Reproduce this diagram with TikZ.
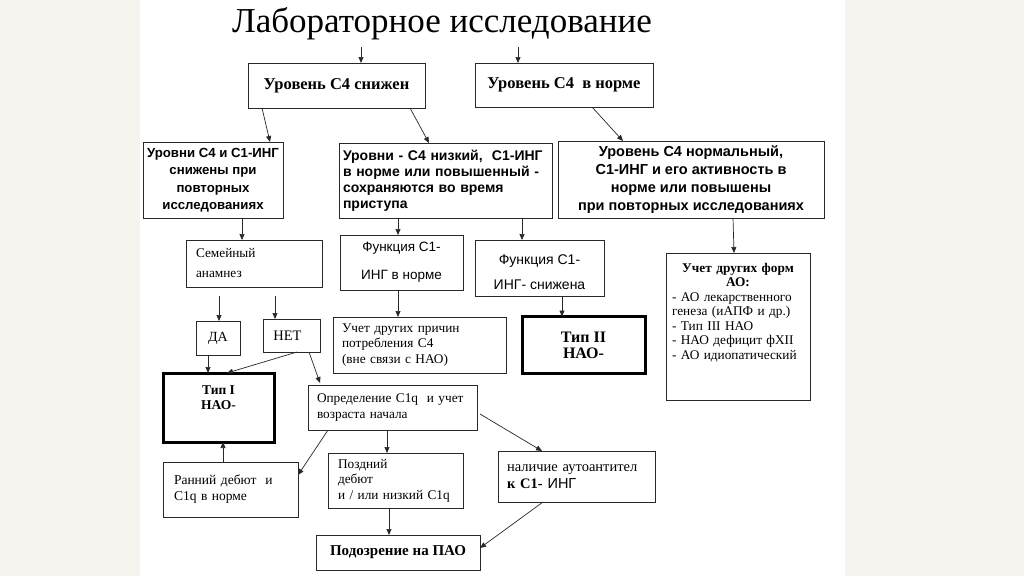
\documentclass[tikz,border=0pt]{standalone}
\usepackage{fontspec}
\setmainfont{Liberation Serif}
\setsansfont{Liberation Sans}
\usetikzlibrary{arrows.meta}
\definecolor{pagebg}{RGB}{246,244,239}
\definecolor{ln}{RGB}{40,40,40}
\begin{document}
\begin{tikzpicture}[x=1pt,y=-1pt,
  bx/.style={draw=ln, line width=0.9pt, fill=white, inner sep=0pt, outer sep=0pt},
  thk/.style={draw=black, line width=3pt, fill=white, inner sep=0pt, outer sep=0pt},
  arr/.style={-{Triangle[length=6pt,width=5pt]}, line width=0.7pt, draw=ln},
  tb/.style={font=\fontsize{16.5}{19}\selectfont\bfseries},
  sb/.style={font=\sffamily\bfseries\fontsize{13.2}{17.5}\selectfont},
  sr/.style={font=\sffamily\fontsize{13.5}{28}\selectfont},
  tr/.style={font=\fontsize{13.3}{15.5}\selectfont},
]
\fill[pagebg] (0,0) rectangle (1024,576);
\fill[white] (140,0) rectangle (845,576);
\useasboundingbox (0,0) rectangle (1024,576);

\node[font=\fontsize{35}{40}\selectfont] (T) at (442,24) {Лабораторное исследование};

\node[bx, tb, minimum width=177, minimum height=45] (A) at (336.5,85.5) {\raisebox{3pt}{Уровень С4 снижен}};
\node[bx, tb, minimum width=178, minimum height=44] (B) at (564,85) {\raisebox{3pt}{Уровень С4~ в норме}};

\node[bx, sb, minimum width=140, minimum height=76, align=center] (C) at (213,180) {Уровни С4 и С1-ИНГ\\снижены при\\повторных\\исследованиях};
\node[bx, minimum width=213, minimum height=75, text width=205, align=left, font=\sffamily\bfseries\fontsize{14}{16}\selectfont] (D) at (445.5,180.5) {Уровни - С4 низкий,~ С1-ИНГ\\в норме или повышенный -\\сохраняются во время\\приступа};
\node[bx, minimum width=266, minimum height=77, align=center, font=\sffamily\bfseries\fontsize{14.5}{18}\selectfont] (E) at (691,179.5) {Уровень С4 нормальный,\\С1-ИНГ и его активность в\\норме или повышены\\при повторных исследованиях};

\node[bx, minimum width=136, minimum height=47, text width=116, align=left, font=\fontsize{13.3}{20}\selectfont] (F) at (254,263.5) {Семейный\\анамнез};
\node[bx, sr, minimum width=123, minimum height=55, align=center] (G) at (401.5,262.5) {Функция С1-\\ИНГ в норме};
\node[bx, minimum width=129, minimum height=56, align=center, font=\sffamily\fontsize{14}{25}\selectfont] (H) at (539.5,268) {\strut Функция С1-\\ИНГ- снижена};
\node[bx, minimum width=144, minimum height=147] (I) at (738,326.5) {};
\node[anchor=north, text width=132, align=left, inner sep=0pt, font=\fontsize{13.3}{14.5}\selectfont] (Itxt) at ([yshift=-10]I.north) {{\centering\bfseries Учет других форм\\АО:\par}- АО лекарственного\\генеза (иАПФ и др.)\\- Тип III НАО\\- НАО дефицит фХII\\- АО идиопатический};

\node[bx, minimum width=44, minimum height=34, font=\fontsize{14}{16}\selectfont] (da) at (218,338) {ДА};
\node[bx, minimum width=57, minimum height=33, font=\fontsize{14.5}{16}\selectfont] (net) at (291.5,335.5) {\hspace*{-8pt}НЕТ};
\node[bx, tr, minimum width=173, minimum height=56, text width=155, align=left] (J) at (419.5,345) {Учет других причин\\потребления С4\\(вне связи с НАО)};
\node[thk, minimum width=123, minimum height=57, align=center, font=\fontsize{16}{16}\selectfont\bfseries] (K) at (583.5,345) {Тип II\\НАО-};

\node[thk, minimum width=111, minimum height=69] (L) at (218.5,407.5) {};
\node[inner sep=0pt, anchor=north, align=center, font=\fontsize{13.5}{15.5}\selectfont\bfseries] (Ltxt) at ([yshift=-12]L.north) {Тип I\\НАО-};
\node[bx, tr, minimum width=169, minimum height=45, text width=151, align=left] (M) at (392.5,407.5) {Определение С1q~ и учет\\возраста начала};
\node[bx, tr, minimum width=135, minimum height=55, text width=115, align=left] (N) at (395.5,480.5) {Поздний\\дебют\\и / или низкий С1q};
\node[bx, minimum width=135, minimum height=55, text width=113, align=left, font=\fontsize{13.5}{16}\selectfont] (O) at (230.5,489.5) {Ранний дебют~ и\\С1q в норме\\[5pt]};
\node[bx, minimum width=157, minimum height=51, text width=139, align=left, font=\fontsize{14.5}{17}\selectfont] (P) at (576.5,476.5) {наличие аутоантител\\{\bfseries к С1-} {\sffamily ИНГ}};
\node[bx, minimum width=164, minimum height=35, font=\fontsize{15}{17}\selectfont\bfseries] (Q) at (398,552.5) {Подозрение на ПАО};

\coordinate (t1) at (361,47);
\coordinate (t2) at (518,47);
\draw[arr] (t1) -- (t1 |- A.north);
\draw[arr] (t2) -- (t2 |- B.north);
\draw[arr] ([xshift=-74.5]A.south) -- ([xshift=57]C.north);
\draw[arr] ([xshift=73.5]A.south) -- ([xshift=-16.5]D.north);
\draw[arr] ([xshift=28]B.south) -- ([xshift=-68]E.north);
\draw[arr] ([xshift=29]C.south) -- ([xshift=-12]F.north);
\draw[arr] ([xshift=-47.5]D.south) -- ([xshift=-3.5]G.north);
\draw[arr] ([xshift=76.5]D.south) -- ([xshift=-17.5]H.north);
\draw[arr] ([xshift=42]E.south) -- ([xshift=-4]I.north);
\draw[arr] ([xshift=-35,yshift=-9]F.south) -- ([xshift=1]da.north);
\draw[arr] ([xshift=21,yshift=-9]F.south) -- ([xshift=-16.5]net.north);
\draw[arr] ([xshift=-3.5]G.south) -- ([xshift=-21.5]J.north);
\draw[arr] ([xshift=22.5]H.south) -- ([xshift=-21.5]K.north);
\draw[arr] ([xshift=-10]da.south) -- ([xshift=-10.5]L.north);
\draw[arr] ([xshift=5.5]net.south) -- ([xshift=8.5]L.north);
\draw[arr] ([xshift=17.5]net.south) -- ([xshift=-72.5,yshift=2]M.north);
\draw[arr] ([xshift=-5.5]M.south) -- ([xshift=-8.5]N.north);
\draw[arr] ([xshift=-64.5]M.south) -- ([yshift=14.5]O.east);
\draw[arr] ([xshift=-7.5]O.north) -- ([xshift=4.5]L.south);
\draw[arr] ([yshift=-6.5,xshift=3]M.east) -- ([xshift=-34.5]P.north);
\draw[arr] ([xshift=-33.5]P.south) -- ([yshift=4.5]Q.east);
\draw[arr] ([xshift=-6.5]N.south) -- ([xshift=-9]Q.north);
\end{tikzpicture}
\end{document}
